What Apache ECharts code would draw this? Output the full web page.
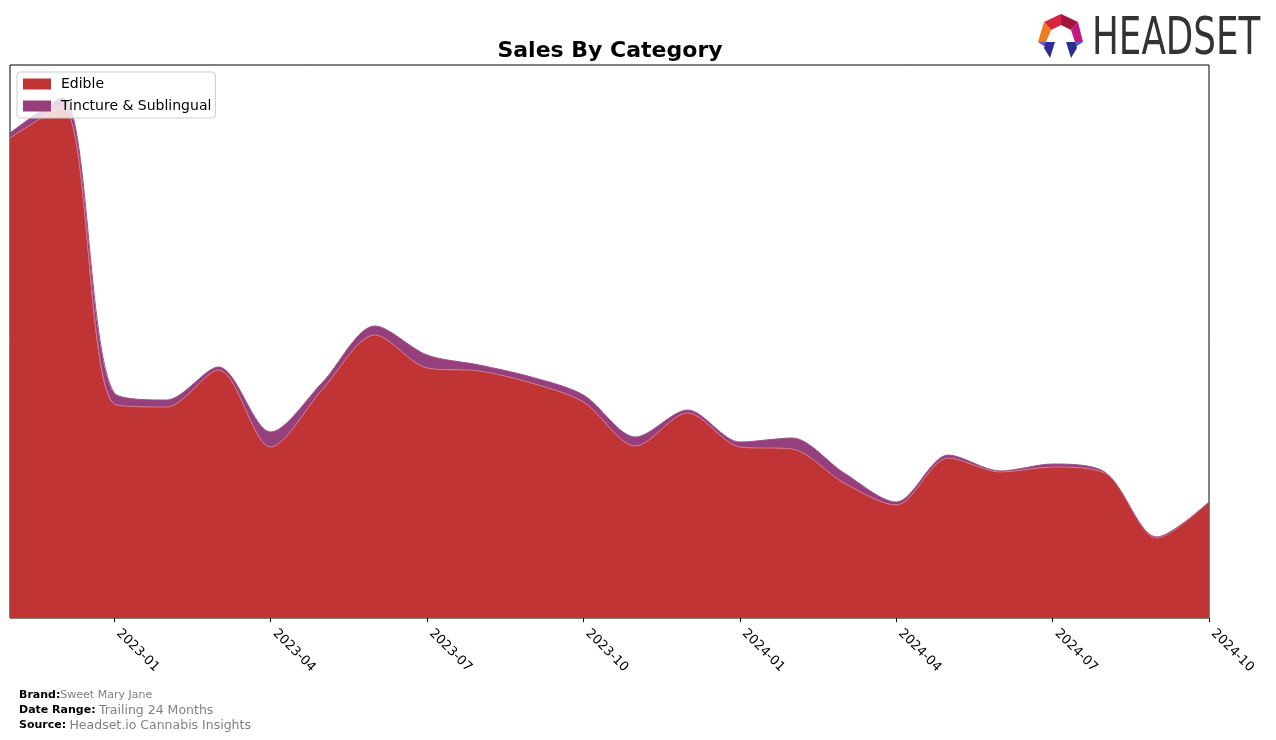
<!DOCTYPE html>
<html>
<head>
<meta charset="utf-8">
<script src="https://cdn.jsdelivr.net/npm/echarts@6/dist/echarts.min.js"></script>
<style>
html,body{margin:0;padding:0;background:#fff;}
#chart{width:1276px;height:740px;}
</style>
</head>
<body>
<div id="chart"></div>
<script>
// Monthly categories (x axis)
const months = ['2022-11','2022-12','2023-01','2023-02','2023-03','2023-04','2023-05','2023-06','2023-07','2023-08','2023-09','2023-10','2023-11','2023-12','2024-01','2024-02','2024-03','2024-04','2024-05','2024-06','2024-07','2024-08','2024-09','2024-10'];
// Tick labels shown on the x axis
const tickLabels = ['2023-01','2023-04','2023-07','2023-10','2024-01','2024-04','2024-07','2024-10'];
// Sales (relative units)
const edible = [480, 511, 214, 211, 248, 171, 229, 283, 250, 247, 235, 216, 172, 205, 171, 169, 135, 113, 160, 146, 151, 145, 80, 116];
const tincture = [5, 9, 11, 7, 3, 15, 7, 9, 13, 6, 6, 7, 9, 3, 5, 11, 10, 3, 3, 1, 3, 1, 1, 0];
const yMax = 553;

const chart = echarts.init(document.getElementById('chart'), null, {renderer: 'canvas'});
const font = 'DejaVu Sans';
const showTick = (i, v) => tickLabels.indexOf(v) >= 0;
const option = {
  animation: false,
  backgroundColor: '#ffffff',
  title: {
    text: 'Sales By Category',
    left: 605, top: 35, textAlign: 'center',
    textStyle: {fontFamily: font, fontSize: 22, fontWeight: 'bold', color: '#000'}
  },
  legend: {
    data: ['Edible', 'Tincture & Sublingual'],
    orient: 'vertical', left: 17, top: 72,
    itemWidth: 28, itemHeight: 11, itemGap: 8,
    padding: [5, 4, 5, 6],
    backgroundColor: 'rgba(255,255,255,0.8)',
    borderColor: '#cccccc', borderWidth: 1, borderRadius: 3,
    textStyle: {fontFamily: font, fontSize: 14, color: '#000', padding: [0, 0, 0, 5]},
    icon: 'rect'
  },
  grid: {left: 10, right: 67, top: 65, bottom: 122, show: true, borderColor: '#000', borderWidth: 1, backgroundColor: 'transparent'},
  xAxis: {
    type: 'category', data: months, boundaryGap: false,
    axisLine: {show: false},
    axisTick: {show: true, length: 4, lineStyle: {color: '#000'}, alignWithLabel: true, interval: showTick},
    axisLabel: {rotate: -45, fontFamily: font, fontSize: 13, color: '#000', margin: 9, padding: [0, 0, 0, 6], interval: showTick},
    splitLine: {show: false}
  },
  yAxis: {
    type: 'value', min: 0, max: yMax,
    axisLine: {show: false}, axisTick: {show: false}, axisLabel: {show: false}, splitLine: {show: false}
  },
  series: [
    {
      name: 'Edible', type: 'line', stack: 'total', data: edible, smooth: 0.3, symbol: 'none',
      itemStyle: {color: '#c13435'},
      lineStyle: {width: 1, color: '#d07a8a'},
      areaStyle: {color: '#c13435', opacity: 1}, z: 2
    },
    {
      name: 'Tincture & Sublingual', type: 'line', stack: 'total', data: tincture, smooth: 0.3, symbol: 'none',
      itemStyle: {color: '#953f7c'},
      lineStyle: {width: 1, color: '#a0508a'},
      areaStyle: {color: '#953f7c', opacity: 1}, z: 2
    }
  ],
  graphic: [
    // logo icon
    {type: 'polygon', shape: {points: [[1061,14],[1044,22],[1051,30],[1061,25]]}, style: {fill: '#d6263b'}},
    {type: 'polygon', shape: {points: [[1061,14],[1078,22],[1071,30],[1061,25]]}, style: {fill: '#a3163c'}},
    {type: 'polygon', shape: {points: [[1044,22],[1038,42],[1046,42],[1051,30]]}, style: {fill: '#f27b22'}},
    {type: 'polygon', shape: {points: [[1078,22],[1083,42],[1075,42],[1071,30]]}, style: {fill: '#c2187f'}},
    {type: 'polygon', shape: {points: [[1038,42],[1046,42],[1050,50]]}, style: {fill: '#5a5ad8'}},
    {type: 'polygon', shape: {points: [[1046,42],[1055,42],[1050,58],[1044,48]]}, style: {fill: '#2e2e92'}},
    {type: 'polygon', shape: {points: [[1075,42],[1083,42],[1071,50]]}, style: {fill: '#5a5ad8'}},
    {type: 'polygon', shape: {points: [[1066,42],[1075,42],[1077,48],[1071,58]]}, style: {fill: '#2e2e92'}},
    {type: 'text', x: 1092, y: 41, scaleX: 0.70, style: {text: 'HEADSET', fontFamily: 'DejaVu Sans', fontSize: 51, fill: '#333333', textVerticalAlign: 'middle'}},
    // footer
    {type: 'text', left: 19, top: 690, style: {text: '{b|Brand:}{v|Sweet Mary Jane}', rich: {b: {fontFamily: font, fontSize: 11, fontWeight: 'bold', fill: '#000'}, v: {fontFamily: font, fontSize: 11, fill: '#808080'}}}},
    {type: 'text', left: 19, top: 704, style: {text: '{b|Date Range:} {v|Trailing 24 Months}', rich: {b: {fontFamily: font, fontSize: 11, fontWeight: 'bold', fill: '#000'}, v: {fontFamily: font, fontSize: 12.5, fill: '#808080'}}}},
    {type: 'text', left: 19, top: 719, style: {text: '{b|Source:} {v|Headset.io Cannabis Insights}', rich: {b: {fontFamily: font, fontSize: 11, fontWeight: 'bold', fill: '#000'}, v: {fontFamily: font, fontSize: 12.5, fill: '#808080'}}}}
  ]
};
chart.setOption(option);
</script>
</body>
</html>
